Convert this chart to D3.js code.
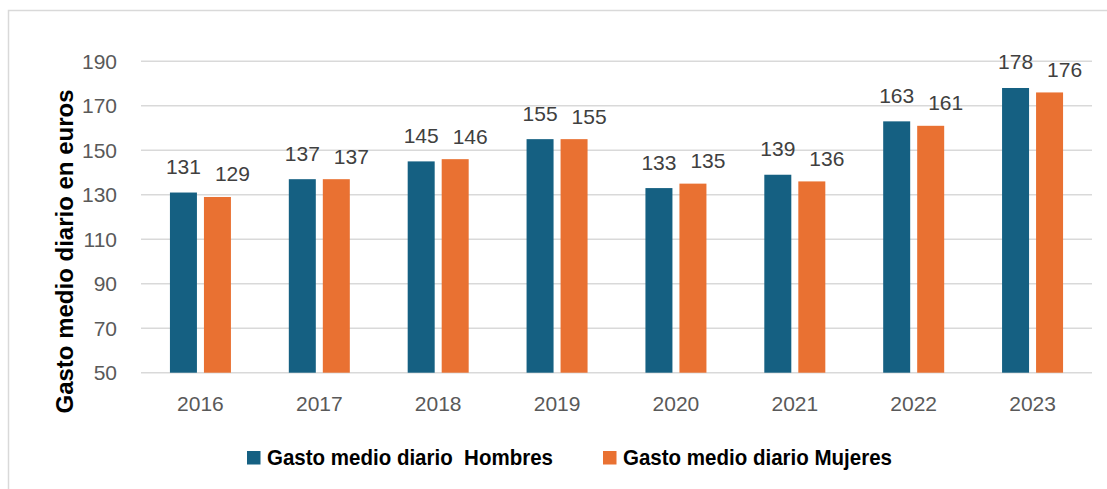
<!DOCTYPE html>
<html>
<head>
<meta charset="utf-8">
<script src="https://cdn.jsdelivr.net/npm/d3@7"></script>
<style>
  html, body { margin: 0; padding: 0; background: #fff; }
  svg { display: block; font-family: "Liberation Sans", Arial, sans-serif; }
</style>
</head>
<body>
<div id="chart"></div>
<script>
// Gasto medio diario por sexo, 2016-2023 (grouped bars)
const years = ["2016", "2017", "2018", "2019", "2020", "2021", "2022", "2023"];
const hombres = [131, 137, 145, 155, 133, 139, 163, 178];
const mujeres = [129, 137, 146, 155, 135, 136, 161, 176];
const seriesNames = ["Gasto medio diario  Hombres", "Gasto medio diario Mujeres"];
const seriesColors = ["#156082", "#E97132"];
const yTicks = [50, 70, 90, 110, 130, 150, 170, 190];

const W = 1107, H = 489;
const svg = d3.select("#chart").append("svg").attr("width", W).attr("height", H);

// outer chart border (only top and left edges fall inside the picture)
svg.append("rect").attr("x", 8.5).attr("y", 10.5).attr("width", W + 10).attr("height", H + 10)
  .attr("fill", "none").attr("stroke", "#d9d9d9").attr("stroke-width", 1.5);

const x = d3.scaleBand().domain(years).range([141, 1092]);
const xSub = d3.scaleBand().domain([0, 1]).range([-30.5, 30.5]).paddingInner(0.206);
const y = d3.scaleLinear().domain([50, 190]).range([372.7, 61.3]);

// gridlines
svg.append("g").selectAll("line").data(yTicks).join("line")
  .attr("x1", 141).attr("x2", 1092)
  .attr("y1", (d) => y(d)).attr("y2", (d) => y(d))
  .attr("stroke", "#d9d9d9").attr("stroke-width", 1.5);

// y tick labels
svg.append("g").selectAll("text").data(yTicks).join("text")
  .attr("x", 117).attr("y", (d) => y(d) + 7.5)
  .attr("text-anchor", "end").attr("fill", "#595959").style("font-size", "21px")
  .text((d) => d);

// x tick labels
svg.append("g").selectAll("text").data(years).join("text")
  .attr("x", (d) => x(d) + x.bandwidth() / 2).attr("y", 411)
  .attr("text-anchor", "middle").attr("fill", "#595959").style("font-size", "21px")
  .text((d) => d);

// y axis title
svg.append("text")
  .attr("transform", "translate(73,251.5) rotate(-90)")
  .attr("text-anchor", "middle").attr("fill", "#000")
  .style("font-size", "24px").style("font-weight", "bold")
  .text("Gasto medio diario en euros");

// bars + labels
const series = [hombres, mujeres];
const labelGap = [18.5, 15.5], labelDx = [0, 15];
series.forEach((vals, si) => {
  const g = svg.append("g");
  const rows = years.map((yr, i) => ({ yr, v: vals[i] }));
  g.selectAll("rect").data(rows).join("rect")
    .attr("x", (d) => x(d.yr) + x.bandwidth() / 2 + xSub(si))
    .attr("y", (d) => y(d.v))
    .attr("width", xSub.bandwidth())
    .attr("height", (d) => y(50) - y(d.v))
    .attr("fill", seriesColors[si]);
  g.selectAll("text").data(rows).join("text")
    .attr("x", (d) => x(d.yr) + x.bandwidth() / 2 + xSub(si) + xSub.bandwidth() / 2 + labelDx[si])
    .attr("y", (d) => y(d.v) - labelGap[si])
    .attr("text-anchor", "middle").attr("fill", "#404040").style("font-size", "21px")
    .text((d) => d.v);
});

// legend
const legX = [247, 603], legW = [286, 269];
const leg = svg.append("g");
seriesNames.forEach((name, i) => {
  leg.append("rect").attr("x", legX[i]).attr("y", 451).attr("width", 13.5).attr("height", 13.5)
    .attr("fill", seriesColors[i]);
  leg.append("text").attr("x", legX[i] + 20).attr("y", 465)
    .attr("fill", "#000").style("font-size", "22px").style("font-weight", "bold")
    .attr("textLength", legW[i]).attr("lengthAdjust", "spacingAndGlyphs")
    .style("white-space", "pre")
    .text(name);
});
</script>
</body>
</html>
